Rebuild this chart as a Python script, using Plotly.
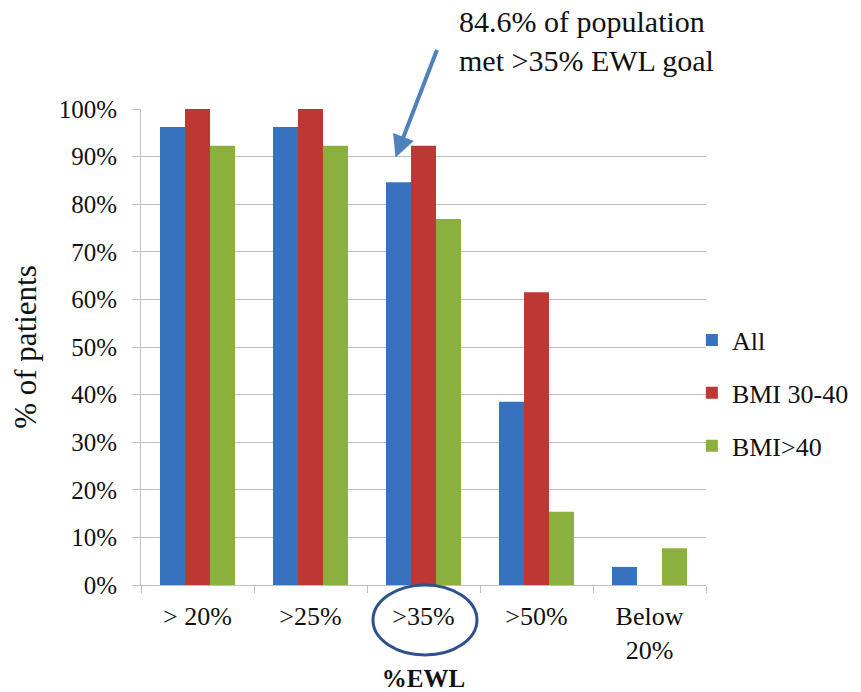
import plotly.graph_objects as go

# %EWL categories and share of patients reaching each threshold
categories = ["> 20%", ">25%", ">35%", ">50%", "Below<br>20%"]
all_patients = [96.2, 96.2, 84.6, 38.5, 3.8]
bmi_30_40 = [100.0, 100.0, 92.3, 61.5, 0.0]
bmi_over_40 = [92.3, 92.3, 76.9, 15.4, 7.7]

series = [
    ("All", all_patients, "#3672be"),
    ("BMI 30-40", bmi_30_40, "#bd3733"),
    ("BMI>40", bmi_over_40, "#8cb03d"),
]

FAMILY = "Liberation Serif"
INK = "#111111"
GRID = "#c0c0c0"


def serif(size, weight="normal"):
    return dict(family=FAMILY, size=size, color=INK, weight=weight)


# plot area in pixels
L, R, T, B = 141, 155, 109, 107
W, H = 861, 692
PW, PH = W - L - R, H - T - B

fig = go.Figure()
for name, vals, color in series:
    fig.add_trace(go.Bar(
        x=categories, y=vals, name=name, legendgroup=name,
        marker=dict(color=color, line=dict(width=0)),
    ))

# arrow pointing at the "All" bar of the >35% group
fig.add_annotation(
    x=categories[2], y=89.8, xref="x", yref="y",
    text="", showarrow=True, ax=42, ay=-109,
    xshift=-28, arrowhead=2, arrowsize=1.1, arrowwidth=4,
    arrowcolor="#4f81bd",
)
fig.add_annotation(
    x=(457 - L) / PW, y=(H - B - 3) / PH, xref="paper", yref="paper",
    text="84.6% of population<br>met >35% EWL goal",
    showarrow=False, align="left", xanchor="left", yanchor="top",
    font=serif(30),
)

fig.update_layout(
    width=W, height=H,
    margin=dict(l=L, r=R, t=T, b=B, autoexpand=False),
    paper_bgcolor="white", plot_bgcolor="white",
    barmode="group", bargap=0.336, bargroupgap=0,
    font=serif(20),
    showlegend=True,
    legend=dict(
        x=0.975, y=0.403, xanchor="left", yanchor="middle",
        font=serif(26),
        tracegroupgap=16, bgcolor="rgba(0,0,0,0)",
    ),
    xaxis=dict(
        showline=True, linecolor=GRID, linewidth=1,
        ticks="outside", ticklen=7, tickcolor=GRID, tickson="boundaries",
        ticklabelstandoff=8, automargin=False,
        tickfont=serif(26),
        title=dict(text="<b>%EWL</b>", font=serif(25, "bold"), standoff=14),
        showgrid=False, fixedrange=True,
    ),
    yaxis=dict(
        range=[0, 100], dtick=10, ticksuffix="%",
        showline=True, linecolor=GRID, linewidth=1,
        ticks="outside", ticklen=8, tickcolor=GRID,
        ticklabelstandoff=10, automargin=False,
        showgrid=True, gridcolor=GRID, gridwidth=1,
        zeroline=False,
        tickfont=serif(25),
        title=dict(text="% of patients", font=serif(31), standoff=12),
    ),
)

# circle around the >35% label
fig.add_shape(
    type="circle", xref="x", yref="paper",
    x0=1.553, x1=2.473, y0=-0.147, y1=0.0,
    line=dict(color="#2f528f", width=3),
)

fig.write_html("out.html")
